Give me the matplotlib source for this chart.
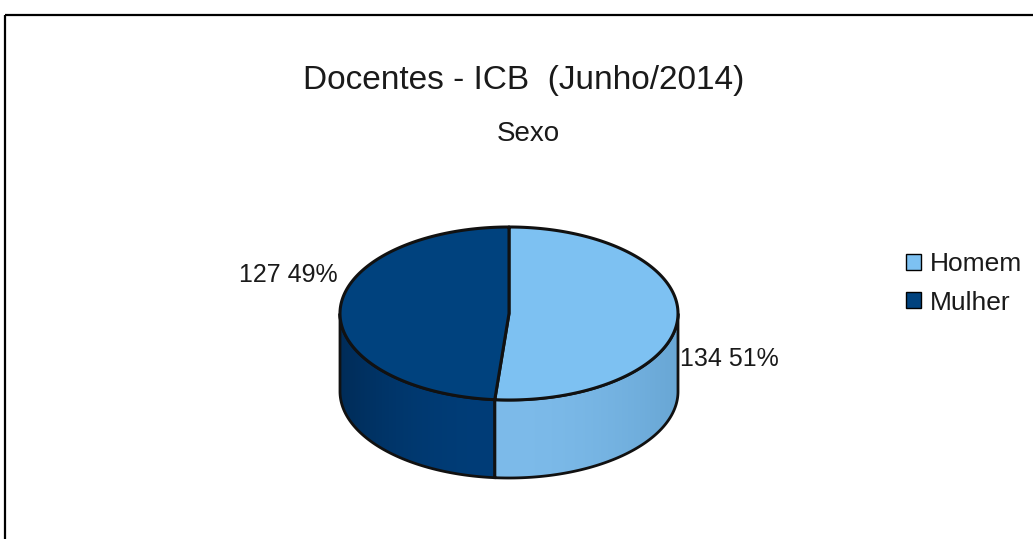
import numpy as np
import matplotlib
matplotlib.use("Agg")
import matplotlib.pyplot as plt
from matplotlib.patches import Polygon, Patch

categories = ["Homem", "Mulher"]
values = [134, 127]
top_colors = ["#7DC1F2", "#00427E"]
side_colors_light = ["#7DBBEA", "#003D78"]
side_colors_dark = ["#68A6D4", "#002C58"]
title = "Docentes - ICB  (Junho/2014)"
subtitle = "Sexo"

plt.rcParams['font.family'] = ['Liberation Sans', 'DejaVu Sans']

W, H = 1033, 539
fig = plt.figure(figsize=(W / 100, H / 100), dpi=100)
ax = fig.add_axes([0, 0, 1, 1])
ax.set_xlim(0, W)
ax.set_ylim(H, 0)
ax.axis("off")

# frame (top and left lines visible)
ax.plot([5, W], [15, 15], color="black", lw=1.6, solid_capstyle="butt")
ax.plot([5, 5], [15, H], color="black", lw=1.6, solid_capstyle="butt")

# pie geometry
cx, cy, rx, ry, depth = 509, 313.5, 169, 86.5, 78
total = sum(values)
fracs = [v / total for v in values]
bounds = np.concatenate([[0], np.cumsum(fracs)]) * 2 * np.pi  # clockwise from top


def pt(t, dy=0.0):
    return cx + rx * np.sin(t), cy - ry * np.cos(t) + dy


# sides (front half: pi/2 .. 3pi/2)
for i in range(len(values)):
    a0 = max(bounds[i], np.pi / 2)
    a1 = min(bounds[i + 1], 3 * np.pi / 2)
    if a1 <= a0:
        continue
    t = np.linspace(a0, a1, 200)
    xs, ys = pt(t)
    xb, yb = pt(t[::-1], depth)
    poly = np.column_stack([np.concatenate([xs, xb]), np.concatenate([ys, yb])])
    patch = Polygon(poly, closed=True, facecolor="none", edgecolor="#111111", lw=2.0, zorder=3)
    ax.add_patch(patch)
    xmin, xmax = poly[:, 0].min(), poly[:, 0].max()
    c1 = np.array(matplotlib.colors.to_rgb(side_colors_light[i]))
    c2 = np.array(matplotlib.colors.to_rgb(side_colors_dark[i]))
    g = np.linspace(0, 1, 256)
    if i == 0:
        grad = c1[None, :] * (1 - g[:, None] ** 2) + c2[None, :] * g[:, None] ** 2
    else:
        grad = c2[None, :] * (1 - g[:, None]) ** 2 + c1[None, :] * (1 - (1 - g[:, None]) ** 2)
    img = ax.imshow(grad[None, :, :], extent=[xmin, xmax, poly[:, 1].max(), poly[:, 1].min()],
                    aspect="auto", zorder=2, interpolation="bilinear")
    img.set_clip_path(patch)

# tops
for i in range(len(values)):
    t = np.linspace(bounds[i], bounds[i + 1], 300)
    xs, ys = pt(t)
    poly = np.column_stack([np.concatenate([[cx], xs]), np.concatenate([[cy], ys])])
    ax.add_patch(Polygon(poly, closed=True, facecolor=top_colors[i], edgecolor="#111111",
                         lw=2.2, joinstyle="round", zorder=4))

# labels
labels = [f"{v} {round(f * 100)}%" for v, f in zip(values, fracs)]
ax.text(680, 359, labels[0], fontsize=18, ha="left", va="center", color="#1a1a1a", zorder=5)
ax.text(338, 275, labels[1], fontsize=18, ha="right", va="center", color="#1a1a1a", zorder=5)

# titles
ax.text(524, 80, title, fontsize=24, ha="center", va="center", color="#1a1a1a")
ax.text(528, 134, subtitle, fontsize=20, ha="center", va="center", color="#1a1a1a")

# legend
handles = [Patch(facecolor=c, edgecolor="black", lw=1) for c in top_colors]
leg = ax.legend(handles, categories, loc="upper left", bbox_to_anchor=(906 / W, 1 - 252 / H),
                frameon=False, fontsize=19, handlelength=0.55, handleheight=0.55,
                handletextpad=0.35, labelspacing=0.55, borderaxespad=0, borderpad=0)
for t in leg.get_texts():
    t.set_color("#1a1a1a")

fig.savefig("out.png", dpi=100)
